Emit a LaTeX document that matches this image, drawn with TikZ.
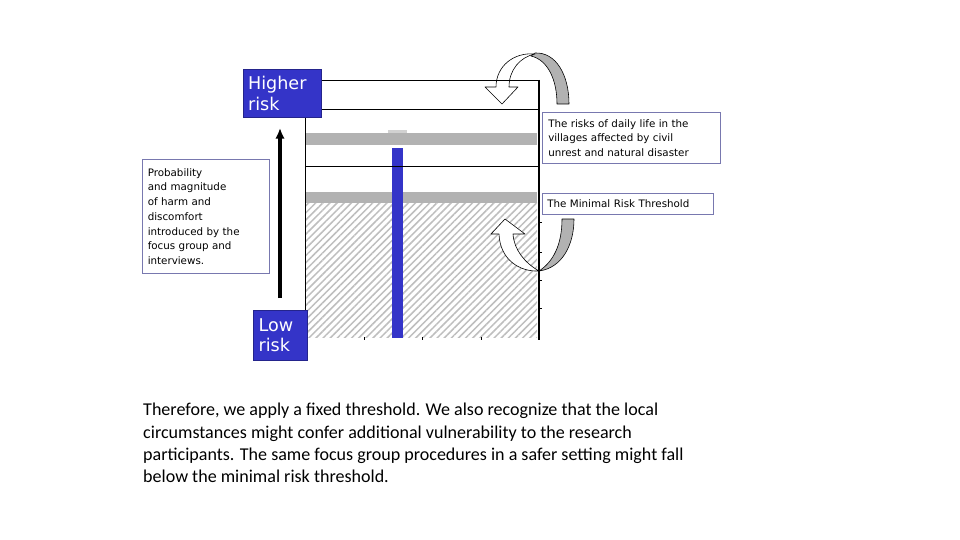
\documentclass[tikz,border=0pt]{standalone}
\usepackage{fontspec}
\setmainfont{Carlito}
\newfontfamily\boxfont{DejaVu Sans}
\usepackage{tikz}
\usetikzlibrary{patterns.meta, arrows.meta}

\definecolor{riskblue}{RGB}{52,52,200}
\definecolor{bandgray}{RGB}{178,178,178}
\definecolor{hatchgray}{RGB}{190,190,190}
\definecolor{frameblue}{RGB}{120,120,175}

\tikzset{
  riskbox/.style={fill=riskblue, draw=riskblue!70!black, text=white, font=\boxfont\fontsize{15}{17.5}\selectfont,
    align=left, inner ysep=2pt, inner xsep=4pt, anchor=north west},
  notebox/.style={draw=frameblue, line width=1pt, fill=white, font=\boxfont\fontsize{8.8}{12.6}\selectfont,
    align=left, inner sep=4pt, anchor=north west},
  curlarrow/.style={draw=black, line width=0.5pt, line join=round},
}

\begin{document}
\begin{tikzpicture}[x=0.03cm, y=-0.03cm]
\useasboundingbox[fill=white] (0,0) rectangle (960,540);

% hatched region and bands
\fill[white] (305,109) rectangle (538,338);
\pattern[pattern={Lines[angle=45, distance=4.3pt, line width=1.3pt]}, pattern color=hatchgray]
  (305,203) rectangle (537,337);
\fill[bandgray] (305,133) rectangle (537,145);
\fill[bandgray!60] (388,130.5) rectangle (407,133);
\fill[bandgray] (305,192) rectangle (537,203);

% blue bar
\fill[riskblue] (392,148) rectangle (403,338);

% upper curved arrow
\filldraw[curlarrow, fill=bandgray] (535,53) .. controls (556,52) and (569,75) .. (569,104)
  -- (557,104) .. controls (557,80) and (548,60) .. (531,56) -- cycle;
\filldraw[curlarrow, fill=white] (496,87) -- (485,87) -- (502,104) -- (518,87) -- (509,87)
  .. controls (509,70) and (520,57) .. (535,54) .. controls (514,52) and (496,66) .. (496,87) -- cycle;

% lower curved arrow
\filldraw[curlarrow, fill=bandgray] (539,271) .. controls (562,268) and (574,245) .. (574,219)
  -- (562,219) .. controls (562,245) and (553,262) .. (539,271) -- cycle;
\filldraw[curlarrow, fill=white] (499,234) -- (491,234) -- (505,219) -- (525,234) -- (513,234)
  .. controls (514,250) and (525,263) .. (539,271) .. controls (520,272) and (500,260) .. (499,234) -- cycle;

% frame lines
\draw[thin] (320,80) -- (539,80);
\draw[thin] (305,109) -- (539,109);
\draw[thin] (305,166.5) -- (539,166.5);
\draw[thin] (305.5,109) -- (305.5,338);
\draw[line width=1.1pt] (539,80) -- (539,340);
\foreach \tx in {364,422,481} \draw[thin] (\tx,337) -- (\tx,340);
\foreach \ty in {222,252,280,308} \draw[thin] (539,\ty) -- (542,\ty);

% vertical arrow
\coordinate (lowend) at (280,298);
\coordinate (highend) at (280,128);
\draw[line width=2.6pt, -{Latex[length=9pt, width=8pt]}] (lowend) -- (highend);

% labels
\node[riskbox, minimum width=2.34cm, minimum height=1.44cm, text width=2.05cm] (higher) at (243,69) {Higher\\risk};
\node[riskbox, minimum width=1.62cm, minimum height=1.5cm, text width=1.3cm] (low) at (253,310) {Low\\risk};
\node[notebox, minimum width=3.81cm, minimum height=3.42cm, text width=3.5cm] (prob) at (142,159)
  {Probability\\and magnitude\\of harm and\\discomfort\\introduced by the\\focus group and\\interviews.};
\node[notebox, minimum width=5.34cm, minimum height=1.53cm, text width=5.0cm] (daily) at (542,112)
  {The risks of daily life in the\\villages affected by civil\\unrest and natural disaster};
\node[notebox, minimum width=5.13cm, minimum height=0.63cm, inner sep=2pt, text width=4.95cm] (threshold) at (542,193)
  {\,The Minimal Risk Threshold};

% caption text
\node[anchor=north west, align=left, inner sep=0pt, font=\fontsize{15.4}{19}\selectfont] (caption) at (143,403)
  {Therefore, we apply a fixed threshold. We also recognize that the local\\
   circumstances might confer additional vulnerability to the research\\
   participants. The same focus group procedures in a safer setting might fall\\
   below the minimal risk threshold.};
\end{tikzpicture}
\end{document}
